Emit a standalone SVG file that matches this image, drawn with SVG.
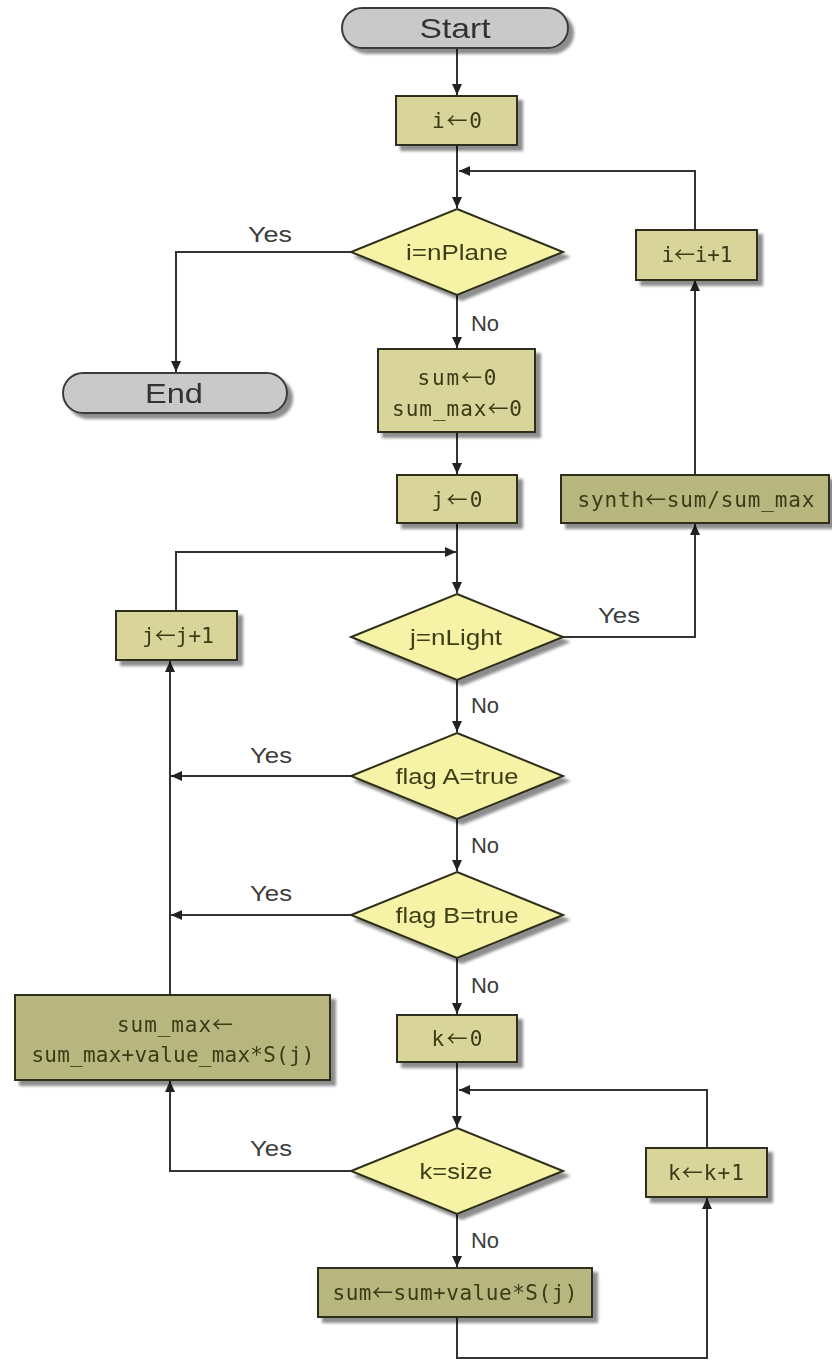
<svg xmlns="http://www.w3.org/2000/svg" width="832" height="1360" viewBox="0 0 832 1360">
<style>
.pill{fill:#c9c9c9;stroke:#3a3a3a;stroke-width:2}
.box{fill:#d8d49a;stroke:#2e2e1a;stroke-width:2}
.dbox{fill:#b7b67f;stroke:#2e2e1a;stroke-width:2}
.dia{fill:#f7f3a6;stroke:#2e2e1a;stroke-width:2}
.ptxt{font-family:"Liberation Sans",Arial,sans-serif;font-size:28px;fill:#333;text-anchor:middle}
.btxt{font-family:"DejaVu Sans Mono","Liberation Mono",monospace;font-size:21px;fill:#3a3a16;text-anchor:middle}
.ar{font-family:"Noto Sans CJK KR","DejaVu Sans",sans-serif}
.dtxt{font-family:"Liberation Sans",Arial,sans-serif;font-size:22px;fill:#3e3e18;text-anchor:middle}
.lbl{font-family:"Liberation Sans",Arial,sans-serif;font-size:22px;fill:#3c3c3c;text-anchor:middle}
.con path{fill:none;stroke:#333;stroke-width:2}
</style>
<defs>
<marker id="ah" markerUnits="userSpaceOnUse" markerWidth="12" markerHeight="10" refX="11" refY="5" orient="auto">
<path d="M0,0 L11,5 L0,10 z" fill="#222"/>
</marker>
<filter id="sh" x="-10%" y="-20%" width="130%" height="150%">
<feGaussianBlur in="SourceAlpha" stdDeviation="1.5"/>
<feOffset dx="5" dy="5"/>
<feComponentTransfer><feFuncA type="linear" slope="0.45"/></feComponentTransfer>
<feMerge><feMergeNode/><feMergeNode in="SourceGraphic"/></feMerge>
</filter>
</defs>
<rect width="832" height="1360" fill="#fff"/>

<g class="con">
<path d="M457,48 V95" marker-end="url(#ah)"/>
<path d="M457,145 V208" marker-end="url(#ah)"/>
<path d="M695,230 V171 H459" marker-end="url(#ah)"/>
<path d="M351,252 H176 V372" marker-end="url(#ah)"/>
<path d="M457,295 V348" marker-end="url(#ah)"/>
<path d="M457,432 V474" marker-end="url(#ah)"/>
<path d="M695,475 V280" marker-end="url(#ah)"/>
<path d="M457,523 V593" marker-end="url(#ah)"/>
<path d="M176,611 V552 H456" marker-end="url(#ah)"/>
<path d="M563,637 H695 V524" marker-end="url(#ah)"/>
<path d="M457,680 V732" marker-end="url(#ah)"/>
<path d="M351,776 H171" marker-end="url(#ah)"/>
<path d="M170,995 V661" marker-end="url(#ah)"/>
<path d="M457,819 V871" marker-end="url(#ah)"/>
<path d="M351,915 H171" marker-end="url(#ah)"/>
<path d="M457,958 V1014" marker-end="url(#ah)"/>
<path d="M457,1062 V1127" marker-end="url(#ah)"/>
<path d="M707,1148 V1090 H459" marker-end="url(#ah)"/>
<path d="M351,1171 H170 V1081" marker-end="url(#ah)"/>
<path d="M457,1214 V1267" marker-end="url(#ah)"/>
<path d="M457,1317 V1358 H707 V1198" marker-end="url(#ah)"/>
</g>

<g id="start" filter="url(#sh)"><rect class="pill" x="342" y="8" width="226" height="40" rx="20"/><text class="ptxt" x="455" y="38" textLength="71" lengthAdjust="spacingAndGlyphs">Start</text></g>
<g id="init-i" filter="url(#sh)"><rect class="box" x="396" y="96" width="121" height="49"/><text class="btxt" x="457" y="128" textLength="50">i<tspan class="ar">←</tspan>0</text></g>
<g id="cond-nplane" filter="url(#sh)"><polygon class="dia" points="457,209 563,252 457,295 351,252"/><text class="dtxt" x="457" y="260" textLength="102" lengthAdjust="spacingAndGlyphs">i=nPlane</text></g>
<g id="end" filter="url(#sh)"><rect class="pill" x="63" y="373" width="224" height="40" rx="20"/><text class="ptxt" x="174" y="403" textLength="58" lengthAdjust="spacingAndGlyphs">End</text></g>
<g id="inc-i" filter="url(#sh)"><rect class="box" x="636" y="230" width="121" height="50"/><text class="btxt" x="697" y="262" textLength="71">i<tspan class="ar">←</tspan>i+1</text></g>
<g id="init-sum" filter="url(#sh)"><rect class="box" x="378" y="349" width="157" height="83"/><text class="btxt" x="457" y="385" textLength="79">sum<tspan class="ar">←</tspan>0</text><text class="btxt" x="457" y="416" textLength="130">sum_max<tspan class="ar">←</tspan>0</text></g>
<g id="init-j" filter="url(#sh)"><rect class="box" x="397" y="475" width="120" height="48"/><text class="btxt" x="457" y="507" textLength="51">j<tspan class="ar">←</tspan>0</text></g>
<g id="synth" filter="url(#sh)"><rect class="dbox" x="561" y="475" width="268" height="48"/><text class="btxt" x="696" y="507" textLength="237">synth<tspan class="ar">←</tspan>sum/sum_max</text></g>
<g id="cond-nlight" filter="url(#sh)"><polygon class="dia" points="457,594 563,637 457,680 351,637"/><text class="dtxt" x="456" y="645" textLength="92" lengthAdjust="spacingAndGlyphs">j=nLight</text></g>
<g id="inc-j" filter="url(#sh)"><rect class="box" x="116" y="611" width="121" height="49"/><text class="btxt" x="178" y="643" textLength="72">j<tspan class="ar">←</tspan>j+1</text></g>
<g id="cond-flaga" filter="url(#sh)"><polygon class="dia" points="457,733 563,776 457,819 351,776"/><text class="dtxt" x="457" y="784" textLength="123" lengthAdjust="spacingAndGlyphs">flag A=true</text></g>
<g id="cond-flagb" filter="url(#sh)"><polygon class="dia" points="457,872 563,915 457,958 351,915"/><text class="dtxt" x="457" y="923" textLength="123" lengthAdjust="spacingAndGlyphs">flag B=true</text></g>
<g id="init-k" filter="url(#sh)"><rect class="box" x="397" y="1015" width="120" height="47"/><text class="btxt" x="457" y="1046" textLength="51">k<tspan class="ar">←</tspan>0</text></g>
<g id="summax" filter="url(#sh)"><rect class="dbox" x="15" y="995" width="315" height="85"/><text class="btxt" x="175" y="1032" textLength="116">sum_max<tspan class="ar">←</tspan></text><text class="btxt" x="173" y="1062" textLength="283">sum_max+value_max*S(j)</text></g>
<g id="cond-size" filter="url(#sh)"><polygon class="dia" points="457,1128 563,1171 457,1214 351,1171"/><text class="dtxt" x="456" y="1179" textLength="73" lengthAdjust="spacingAndGlyphs">k=size</text></g>
<g id="inc-k" filter="url(#sh)"><rect class="box" x="646" y="1148" width="121" height="49"/><text class="btxt" x="706" y="1180" textLength="76">k<tspan class="ar">←</tspan>k+1</text></g>
<g id="accum" filter="url(#sh)"><rect class="dbox" x="318" y="1268" width="274" height="49"/><text class="btxt" x="455" y="1300" textLength="245">sum<tspan class="ar">←</tspan>sum+value*S(j)</text></g>

<g id="labels">
<text class="lbl" x="270" y="242" textLength="44" lengthAdjust="spacingAndGlyphs">Yes</text>
<text class="lbl" x="485" y="331">No</text>
<text class="lbl" x="619" y="623" textLength="42" lengthAdjust="spacingAndGlyphs">Yes</text>
<text class="lbl" x="485" y="713">No</text>
<text class="lbl" x="271" y="763" textLength="42" lengthAdjust="spacingAndGlyphs">Yes</text>
<text class="lbl" x="485" y="853">No</text>
<text class="lbl" x="271" y="901" textLength="42" lengthAdjust="spacingAndGlyphs">Yes</text>
<text class="lbl" x="485" y="993">No</text>
<text class="lbl" x="271" y="1156" textLength="42" lengthAdjust="spacingAndGlyphs">Yes</text>
<text class="lbl" x="485" y="1248">No</text>
</g>
</svg>
